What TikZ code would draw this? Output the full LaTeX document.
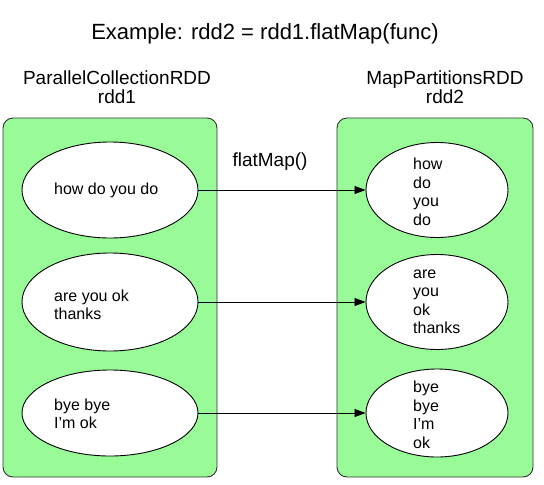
\documentclass[tikz,border=0pt]{standalone}
\usepackage{fontspec}
\setmainfont{Liberation Sans}
\usetikzlibrary{arrows.meta,shapes.geometric}
\definecolor{palegreen}{RGB}{152,251,152}
\begin{document}
\begin{tikzpicture}[x=1pt,y=-1pt,
  box/.style={draw=black!80, fill=palegreen, rounded corners=10pt, line width=0.9pt},
  ell/.style={draw=black, fill=white, ellipse, inner sep=0pt, line width=0.9pt},
  etext/.style={anchor=west, align=left, inner sep=0pt, font=\fontsize{16}{18.5}\selectfont},
  lbl/.style={align=center, inner sep=0pt, font=\fontsize{19}{19.5}\selectfont},
  conn/.style={draw=black, line width=0.8pt, -{Triangle[length=11pt,width=8pt]}}]
\useasboundingbox (0,0) rectangle (544,485);
% title
\node[inner sep=0pt, font=\fontsize{22}{24}\selectfont] (title) at (265,34) {Example: rdd2 = rdd1.flatMap(func)};
% headers
\node[lbl] (h1) at (117,87) {ParallelCollectionRDD\\rdd1};
\node[lbl] (h2) at (445,87) {MapPartitionsRDD\\rdd2};
% boxes
\draw[box] (3,118) rectangle (217,477);
\draw[box] (337,118) rectangle (533,477);
% left ellipses
\node[ell, minimum width=176pt, minimum height=96pt] (l1) at (110,190) {};
\node[ell, minimum width=176pt, minimum height=98pt] (l2) at (110,302) {};
\node[ell, minimum width=176pt, minimum height=86pt] (l3) at (110,413) {};
\node[etext] (lt1) at (54,190) {how do you do};
\node[etext] (lt2) at (54,305) {are you ok\\thanks};
\node[etext] (lt3) at (54,414) {bye bye\\I’m ok};
% right ellipses
\node[ell, minimum width=142pt, minimum height=95pt] (r1) at (437,190) {};
\node[ell, minimum width=142pt, minimum height=95pt] (r2) at (437,302) {};
\node[ell, minimum width=142pt, minimum height=88pt] (r3) at (437,413) {};
\node[etext] (rt1) at (413,192) {how\\do\\you\\do};
\node[etext] (rt2) at (413,302) {are\\you\\ok\\thanks};
\node[etext] (rt3) at (413,415) {bye\\bye\\I’m\\ok};
% label
\node[lbl] (fm) at (270,162) {flatMap()};
% connectors
\draw[conn] (l1.east) -- (r1.west);
\draw[conn] (l2.east) -- (r2.west);
\draw[conn] (l3.east) -- (r3.west);
\end{tikzpicture}
\end{document}
